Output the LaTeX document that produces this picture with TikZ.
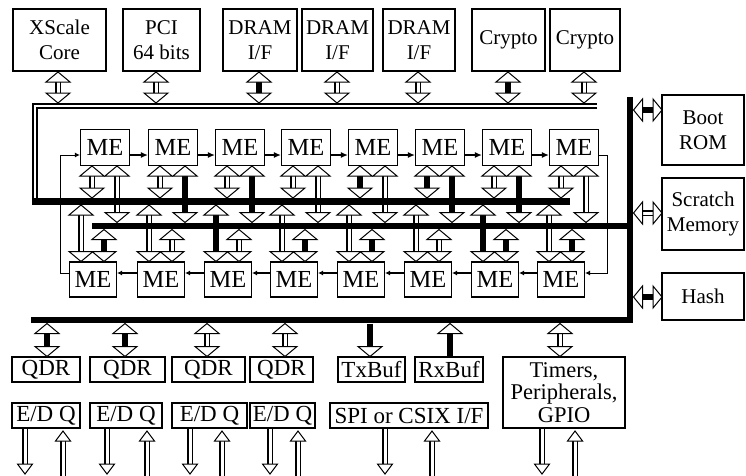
\documentclass[tikz,border=0pt]{standalone}
\usepackage{fontspec}
\setmainfont{Liberation Serif}
\usetikzlibrary{arrows.meta}
% box from corners (image coordinates, y downwards)
\newcommand\bx[6]{\node[box, minimum width={#4-#2}, minimum height={#5-#3}] (#1) at ({(#2+#4)/2},{(#3+#5)/2}) {#6};}
% vertical double-headed arrow: x, ytop, ybottom, shaft style
\newcommand\VD[4]{%
  \path[#4] ({#1},{#2+9}) -- ({#1},{#3-9});
  \draw[tri] ({#1},#2) -- ++(-12,10) -- ++(24,0) -- cycle;
  \draw[tri] ({#1},#3) -- ++(-12,-10) -- ++(24,0) -- cycle;}
% vertical arrow, head at bottom only
\newcommand\VDown[4]{%
  \path[#4] ({#1},#2) -- ({#1},{#3-9});
  \draw[tri] ({#1},#3) -- ++(-12,-10) -- ++(24,0) -- cycle;}
% vertical arrow, head at top only
\newcommand\VUp[4]{%
  \path[#4] ({#1},{#2+9}) -- ({#1},#3);
  \draw[tri] ({#1},#2) -- ++(-12,10) -- ++(24,0) -- cycle;}
% horizontal double-headed arrow: y, xleft, xright, shaft style
\newcommand\HD[4]{%
  \path[#4] ({#2+8},#1) -- ({#3-8},#1);
  \draw[tri] (#2,#1) -- ++(9,-11) -- ++(0,22) -- cycle;
  \draw[tri] (#3,#1) -- ++(-9,-11) -- ++(0,22) -- cycle;}
% off-chip I/O arrows
\newcommand\IOd[1]{\draw[ios] (#1,429) -- (#1,465);
  \draw[tri] (#1,474) -- ++(-7.5,-10) -- ++(15,0) -- cycle;}
\newcommand\IOu[1]{\draw[ios] (#1,438) -- (#1,476);
  \draw[tri] (#1,431) -- ++(-7.5,10) -- ++(15,0) -- cycle;}
\begin{document}
\begin{tikzpicture}[x=1pt,y=-1pt,
  box/.style={draw, fill=white, line width=1.1pt, inner sep=0pt, align=center,
    font=\fontsize{21}{25}\selectfont},
  mebox/.style={box, font=\fontsize{24.5}{25}\selectfont},
  tri/.style={draw, fill=white, line width=1pt, line join=miter},
  hs/.style={draw, double, double distance=3pt, line width=1.2pt},
  ss/.style={draw, line width=6pt},
  ios/.style={draw, double, double distance=3pt, line width=1.1pt},
  bus/.style={draw, line width=6.5pt, line join=miter},
  dbus/.style={draw, double, double distance=2.4pt, line width=1.6pt, line join=miter},
  ringT/.style={draw, line width=2.2pt, -{Latex[length=7pt,width=6pt]}},
  ringB/.style={draw, line width=1.4pt, -{Latex[length=5pt,width=5pt]}},
  ringL/.style={draw, line width=1pt, -{Latex[length=5pt,width=5pt]}},
]
\useasboundingbox (0,0) rectangle (746,475);

% ---- top units
\bx{xs}{13}{9}{106}{71}{XScale\\Core}
\bx{pci}{123}{9}{200}{71}{PCI\\64 bits}
\bx{dr1}{223}{9}{297}{71}{DRAM\\I/F}
\bx{dr2}{302}{9}{373}{71}{DRAM\\I/F}
\bx{dr3}{383}{9}{455}{71}{DRAM\\I/F}
\bx{cr1}{472}{9}{545}{71}{Crypto}
\bx{cr2}{550}{9}{620}{71}{Crypto}

% ---- right units
\bx{boot}{662}{95}{744}{165}{Boot\\ROM}
\bx{scr}{662}{178}{744}{250}{Scratch\\Memory}
\bx{hash}{662}{273}{744}{320}{Hash}

% ---- bottom units
\tikzset{box/.append style={font=\fontsize{23}{25}\selectfont}}
\bx{q1}{12}{357}{80}{382}{QDR}
\bx{q2}{90}{357}{165}{382}{QDR}
\bx{q3}{172}{357}{245}{382}{QDR}
\bx{q4}{250}{357}{313}{382}{QDR}
\bx{e1}{12}{403}{80}{428}{E/D Q}
\bx{e2}{90}{403}{162}{428}{E/D Q}
\bx{e3}{172}{403}{247}{428}{E/D Q}
\bx{e4}{250}{403}{315}{428}{E/D Q}
\bx{tx}{338}{357}{405}{382}{TxBuf}
\bx{rx}{415}{357}{483}{382}{RxBuf}
\bx{spi}{330}{403}{488}{428}{SPI or CSIX I/F}
\node[box, minimum width=122, minimum height=71, font=\fontsize{22.5}{22.5}\selectfont]
  (tim) at (564,392.5) {Timers,\\Peripherals,\\GPIO};

% ---- microengines
\foreach \c [count=\i] in {105,173,240,306,373,440,507,574}
  \node[mebox, minimum width=49, minimum height=36] (t\i) at (\c,147.5) {ME};
\foreach \c [count=\i] in {93,161,228,294,361,428,495,561}
  \node[mebox, minimum width=47, minimum height=35] (b\i) at (\c,279.5) {ME};

% ---- ring of microengines
\foreach \i/\j in {1/2,2/3,3/4,4/5,5/6,6/7,7/8}
  \draw[ringT] ([yshift=-7.5pt]t\i.east) -- ([yshift=-7.5pt]t\j.west);
\foreach \i/\j in {2/1,3/2,4/3,5/4,6/5,7/6,8/7}
  \draw[ringB] ([yshift=6.5pt]b\i.west) -- ([yshift=6.5pt]b\j.east);
\coordinate (ll) at (60,155);
\coordinate (rr) at (607,273);
\draw[ringL] ([yshift=6.5pt]b1.west) -| (ll) -- ([yshift=-7.5pt]t1.west);
\draw[ringL] ([yshift=-7.5pt]t8.east) -| (rr) -- ([yshift=6.5pt]b8.east);

% ---- top units to top bus
\VD{58}{72}{103}{hs}
\VD{156}{72}{103}{hs}
\VD{259}{72}{103}{ss}
\VD{337}{72}{103}{hs}
\VD{418}{72}{103}{hs}
\VD{508}{72}{103}{ss}
\VD{584}{72}{103}{hs}

% ---- top MEs: left to upper bus, right to lower bus
\VD{92}{166}{198}{hs}  \VD{117}{166}{222.5}{hs}
\VD{160}{166}{198}{hs} \VD{185}{166}{222.5}{ss}
\VD{227}{166}{198}{hs} \VD{252}{166}{222.5}{ss}
\VD{293}{166}{198}{hs} \VD{318}{166}{222.5}{hs}
\VD{360}{166}{198}{ss} \VD{385}{166}{222.5}{hs}
\VD{427}{166}{198}{ss} \VD{452}{166}{222.5}{ss}
\VD{494}{166}{198}{hs} \VD{519}{166}{222.5}{ss}
\VD{561}{166}{198}{hs} \VD{586}{166}{222.5}{hs}

% ---- bottom MEs: left to upper bus, right to lower bus
\VD{81}{205}{261.5}{hs}  \VD{104}{229.5}{261.5}{ss}
\VD{149}{205}{261.5}{hs} \VD{172}{229.5}{261.5}{hs}
\VD{216}{205}{261.5}{ss} \VD{239}{229.5}{261.5}{hs}
\VD{282}{205}{261.5}{hs} \VD{305}{229.5}{261.5}{ss}
\VD{349}{205}{261.5}{hs} \VD{372}{229.5}{261.5}{ss}
\VD{416}{205}{261.5}{hs} \VD{439}{229.5}{261.5}{hs}
\VD{483}{205}{261.5}{ss} \VD{506}{229.5}{261.5}{ss}
\VD{549}{205}{261.5}{hs} \VD{572}{229.5}{261.5}{ss}

% ---- right units to vertical bus
\HD{110}{633.5}{662}{ss}
\HD{213}{633.5}{662}{hs}
\HD{297}{633.5}{662}{ss}

% ---- bottom units to bottom bus
\VD{47}{323.5}{356.5}{ss}
\VD{125}{323.5}{356.5}{ss}
\VD{207}{323.5}{356.5}{hs}
\VD{285}{323.5}{356.5}{hs}
\VDown{370}{323.5}{356.5}{ss}
\VUp{450}{323.5}{356.5}{ss}
\VD{560}{323.5}{356.5}{hs}

% ---- off-chip I/O
\IOd{25}  \IOu{63}
\IOd{107} \IOu{147}
\IOd{190} \IOu{222}
\IOd{270} \IOu{298}
\IOd{385} \IOu{432}
\IOd{542} \IOu{575}

% ---- buses
\draw[dbus] (597,106) -- (35,106) -- (35,198);
\draw[bus] (32,201.5) -- (570,201.5);
\draw[bus] (92,226) -- (633,226);
\draw[bus] (630,97) -- (630,320) -- (31,320);
\end{tikzpicture}
\end{document}
